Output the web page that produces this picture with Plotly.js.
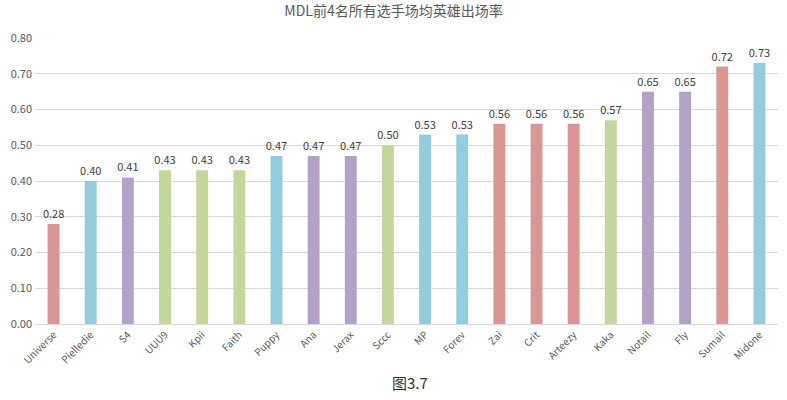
<!DOCTYPE html>
<html>
<head>
<meta charset="utf-8">
<script src="https://cdn.plot.ly/plotly-3.0.1.min.js"></script>
<style>
  html, body { margin: 0; padding: 0; background: #fff; }
  #chart { width: 787px; height: 400px; }
</style>
</head>
<body>
<div id="chart"></div>
<script>
const players = ["Universe", "Pielledie", "S4", "UUU9", "Kpii", "Faith", "Puppy", "Ana", "Jerax", "Sccc",
  "MP", "Forev", "Zai", "Crit", "Arteezy", "Kaka", "Notail", "Fly", "Sumail", "Midone"];
const rates = [0.28, 0.40, 0.41, 0.43, 0.43, 0.43, 0.47, 0.47, 0.47, 0.50,
  0.53, 0.53, 0.56, 0.56, 0.56, 0.57, 0.65, 0.65, 0.72, 0.73];
// team of each player -> colour group
const groups = ["r", "b", "p", "g", "g", "g", "b", "p", "p", "g",
  "b", "b", "r", "r", "r", "g", "p", "p", "r", "b"];
const palette = { r: "#D99694", b: "#93CDDD", p: "#B3A2C7", g: "#C3D69B" };

const font = "'Noto Sans CJK SC', 'Noto Sans', sans-serif";

const trace = {
  type: "bar",
  x: players,
  y: rates,
  marker: { color: groups.map((g) => palette[g]) },
  text: rates.map((v) => v.toFixed(2)),
  textposition: "outside",
  constraintext: "none",
  cliponaxis: false,
  textfont: { family: font, size: 11, color: "#404040" },
  hoverinfo: "x+y",
};

const layout = {
  width: 787,
  height: 400,
  margin: { l: 35, r: 9, t: 38, b: 76 },
  paper_bgcolor: "#fff",
  plot_bgcolor: "#fff",
  bargap: 0.68,
  showlegend: false,
  font: { family: font, color: "#595959" },
  title: {
    text: "MDL前4名所有选手场均英雄出场率",
    font: { family: font, size: 14, color: "#595959" },
    x: 0.5,
    xanchor: "center",
    y: 0.985,
    yanchor: "top",
  },
  xaxis: {
    type: "category",
    tickangle: -45,
    tickfont: { family: font, size: 10, color: "#595959" },
    showline: true,
    linecolor: "#D9D9D9",
    linewidth: 1,
    ticks: "",
    showgrid: false,
    fixedrange: true,
  },
  yaxis: {
    range: [0, 0.8],
    dtick: 0.1,
    tickformat: ".2f",
    tickfont: { family: font, size: 11, color: "#595959" },
    showgrid: true,
    gridcolor: "#D9D9D9",
    zeroline: false,
    ticks: "",
    ticklabelstandoff: 2,
    fixedrange: true,
  },
  annotations: [
    {
      text: "图3.7",
      xref: "paper",
      yref: "paper",
      x: 0.505,
      y: -0.206,
      xanchor: "center",
      yanchor: "middle",
      showarrow: false,
      font: { family: font, size: 15, color: "#333333" },
    },
  ],
};

Plotly.newPlot("chart", [trace], layout, { displayModeBar: false, staticPlot: true });
</script>
</body>
</html>
